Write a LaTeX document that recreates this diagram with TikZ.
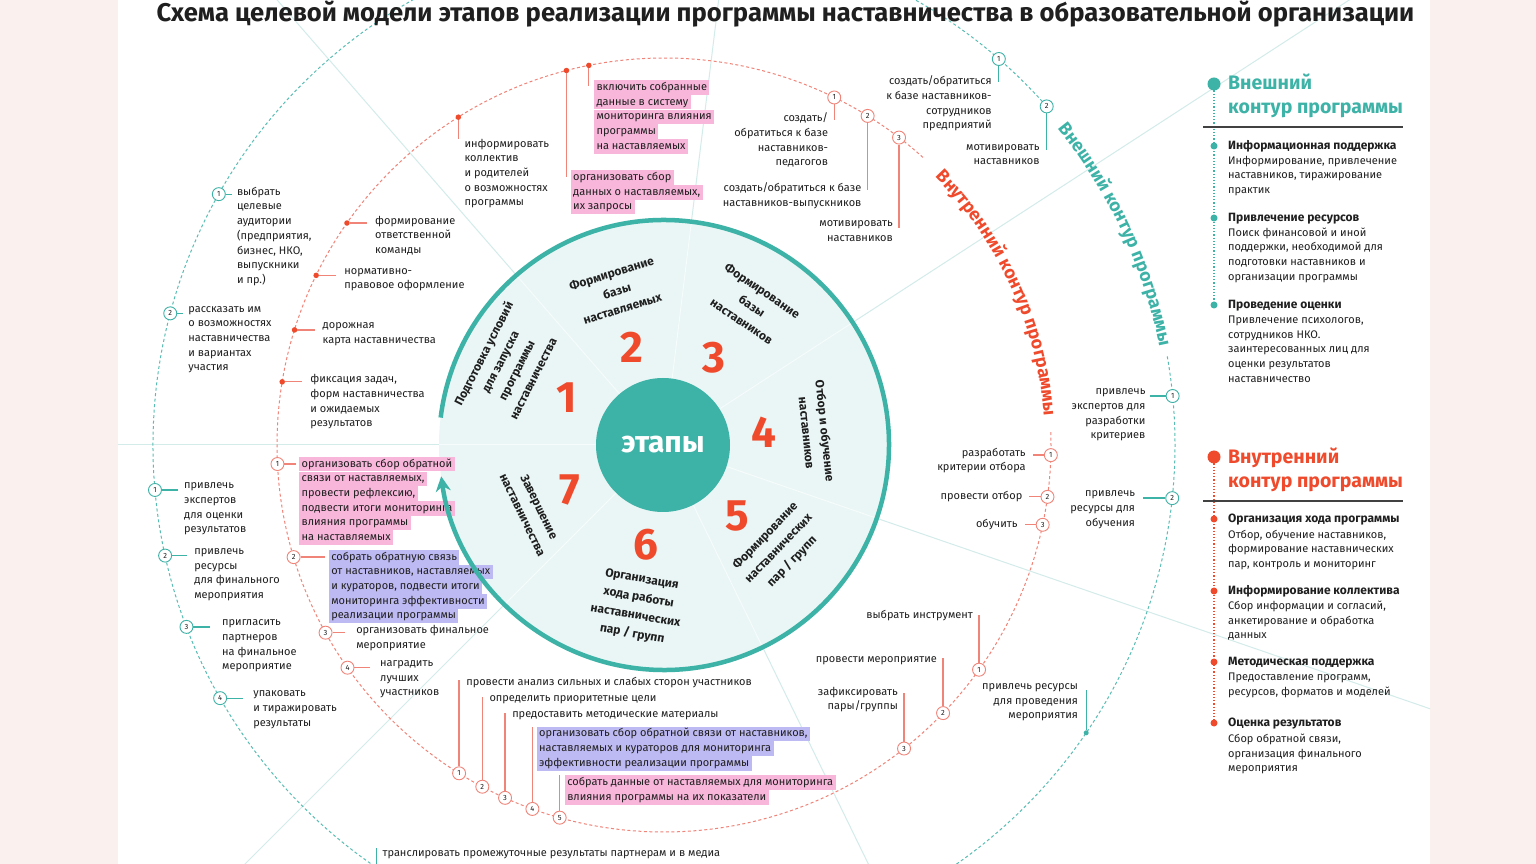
\documentclass[tikz,border=0pt]{standalone}
\usepackage{fontspec}
\setmainfont{Fira Sans}
\usepackage{xcolor}
\usetikzlibrary{positioning,calc,arrows.meta,decorations.text}
\definecolor{tealc}{HTML}{3DB2A7}
\definecolor{tealbg}{HTML}{E9F6F5}
\definecolor{tealline}{HTML}{D3ECE9}
\definecolor{redc}{HTML}{EF4A2C}
\definecolor{salmon}{HTML}{F08478}
\definecolor{pinkhl}{HTML}{F7B6DA}
\definecolor{lilachl}{HTML}{BDB9F2}
\definecolor{paper}{HTML}{FAF0ED}
\definecolor{ink}{HTML}{1F1F1F}
\setlength{\fboxsep}{0pt}
\newcommand{\hlpink}[1]{\colorbox{pinkhl}{\rule[-4.4pt]{0pt}{14.6pt}\hspace{2.5pt}#1\hspace{2.5pt}}}
\newcommand{\hllilac}[1]{\colorbox{lilachl}{\rule[-4.4pt]{0pt}{14.6pt}\hspace{2.5pt}#1\hspace{2.5pt}}}
\tikzset{
	item/.style={font=\fontsize{11}{14.7}\selectfont,text=ink,align=left,inner sep=0pt,
		execute at begin node=\strut},
	itemr/.style={item,align=right},
	rdot/.style={circle,fill=redc,inner sep=0pt,minimum size=5.5pt},
	tdot/.style={circle,fill=tealc,inner sep=0pt,minimum size=5pt},
	rnum/.style={circle,draw=salmon,fill=white,line width=0.9pt,inner sep=0pt,minimum size=13pt,
		font=\fontsize{7.5}{8}\selectfont,text=ink},
	tnum/.style={rnum,draw=tealc},
	rlink/.style={salmon,line width=1.3pt},
	tlink/.style={tealc,line width=1.3pt},
	rdash/.style={salmon,line width=1pt,dash pattern=on 3pt off 2.5pt},
	tdash/.style={tealc!85,line width=1pt,dash pattern=on 3pt off 2.5pt},
	divider/.style={tealline,line width=1pt},
	stage/.style={font=\bfseries\fontsize{12}{18.5}\selectfont,text=ink,align=center,inner sep=0pt},
	bignum/.style={font=\bfseries\fontsize{44}{44}\selectfont,text=redc,inner sep=0pt},
	head/.style={font=\bfseries\fontsize{19.5}{24}\selectfont,align=left,inner sep=0pt,anchor=north west,
		execute at begin node=\strut},
	subhead/.style={font=\bfseries\fontsize{12}{14.7}\selectfont,text=ink,inner sep=0pt,anchor=north west,
		execute at begin node=\strut},
	body/.style={item,anchor=north west},
	rule/.style={ink!85,line width=1.8pt},
	listdot/.style={circle,inner sep=0pt,minimum size=7pt},
	bigdot/.style={circle,inner sep=0pt,minimum size=13pt}
}

\begin{document}
\begin{tikzpicture}[x=1pt,y=1pt]
	
	\useasboundingbox (-664,-419) rectangle (872,445);
	\fill[paper] (-664,-419) rectangle (872,445);
	\fill[white] (-546,-419) rectangle (766,445);
	
	\begin{scope}
		\clip (-546,-419) rectangle (766,445);
		\draw[divider] (180:67) -- (180:900);
		\draw[divider] (131:67) -- (131:900);
		\draw[divider] (83:67) -- (83:900);
		\draw[divider] (33:67) -- (33:900);
		\draw[divider] (-19:67) -- (-19:900);
		\draw[divider] (-64:67) -- (-64:900);
		\draw[divider] (-135:67) -- (-135:900);
		\fill[tealbg] (0,0) circle (225);
		\draw[white!60!tealbg,line width=1pt] (180:67) -- (180:225);
		\draw[white!60!tealbg,line width=1pt] (131:67) -- (131:225);
		\draw[white!60!tealbg,line width=1pt] (83:67) -- (83:225);
		\draw[white!60!tealbg,line width=1pt] (33:67) -- (33:225);
		\draw[white!60!tealbg,line width=1pt] (-19:67) -- (-19:225);
		\draw[white!60!tealbg,line width=1pt] (-64:67) -- (-64:225);
		\draw[white!60!tealbg,line width=1pt] (-135:67) -- (-135:225);
		\draw[tdash] (41:511) arc (41:370:511);
		\draw[rdash] (48:387) arc (48:362:387);
	\end{scope}
	
	\path[decorate,decoration={text along path,text align=center,
		text={|\bfseries\fontsize{18}{18}\selectfont\color{redc}|Внутренний контур программы}}]
		(46:381) arc (46:3:381);
	\path[decorate,decoration={text along path,text align=center,
		text={|\bfseries\fontsize{18}{18}\selectfont\color{tealc}|Внешний контур программы}}]
		(39.5:505) arc (39.5:10.5:505);
	
	\node[font=\bfseries\fontsize{25.6}{25.6}\selectfont,text=ink,inner sep=0pt] (title) at (121.5,431)
		{Схема целевой модели этапов реализации программы наставничества в образовательной организации};
	
	\node[circle,fill=tealc,minimum size=134pt,inner sep=0pt,text=white,
		font=\bfseries\fontsize{30}{30}\selectfont] (etapy) at (-1,0) {этапы};
	
	\node[bignum] (n1) at (-97,47) {1};
	\node[bignum] (n2) at (-32,98) {2};
	\node[bignum] (n3) at (50,87) {3};
	\node[bignum] (n4) at (100,13) {4};
	\node[bignum] (n5) at (73,-71) {5};
	\node[bignum] (n6) at (-18,-100) {6};
	\node[bignum] (n7) at (-94,-45) {7};
	
	\node[stage,rotate=63] (st1) at (-156,79) {Подготовка условий\\для запуска\\программы\\наставничества};
	\node[stage,rotate=17] (st2) at (-47,154) {Формирование\\базы\\наставляемых};
	\node[stage,rotate=-34] (st3) at (88,139) {Формирование\\базы\\наставников};
	\node[stage,rotate=-84] (st4) at (152,13) {Отбор и обучение\\наставников};
	\node[stage,rotate=46] (st5) at (115,-104) {Формирование\\наставнических\\пар / групп};
	\node[stage,rotate=-10] (st6) at (-27,-162) {Организация\\хода работы\\наставнических\\пар / групп};
	\node[stage,rotate=-64] (st7) at (-133,-66) {Завершение\\наставничества};
	
	\node[rdot] (p1) at (145:387) {};
	\draw[rlink] (p1) -- ++(20,0) coordinate (p1e);
	\node[item,below right=-7.4pt and 8pt of p1e] (p1t) {формирование\\ответственной\\команды};
	\node[rdot] (p2) at (154:387) {};
	\draw[rlink] (p2) -- ++(20,0) coordinate (p2e);
	\node[item,below right=-7.4pt and 8pt of p2e] (p2t) {нормативно-\\правовое оформление};
	\node[rdot] (p3) at (162.7:387) {};
	\draw[rlink] (p3) -- ++(20,0) coordinate (p3e);
	\node[item,below right=-7.4pt and 8pt of p3e] (p3t) {дорожная\\карта наставничества};
	\node[rdot] (p4) at (170.6:387) {};
	\draw[rlink] (p4) -- ++(20,0) coordinate (p4e);
	\node[item,below right=-7.4pt and 8pt of p4e] (p4t) {фиксация задач,\\форм наставничества\\и ожидаемых\\результатов};
	
	\node[rdot] (b1) at (122.1:387) {};
	\draw[rlink] (b1) -- ++(0,-22) coordinate (b1e);
	\node[item,below right=-0.6pt and 6pt of b1e] (b1t) {информировать\\коллектив\\и родителей\\о возможностях\\программы};
	\node[rdot] (b2) at (101.2:387) {};
	\draw[rlink] (b2) -- ++(0,-21) coordinate (b2e);
	\node[item,below right=-6.4pt and 5pt of b2e] (b2t) {\hlpink{включить собранные}\\\hlpink{данные в систему}\\\hlpink{мониторинга влияния}\\\hlpink{программы}\\\hlpink{на наставляемых}};
	\node[rdot] (b3) at (104.6:387) {};
	\draw[rlink] (b3) -- ++(0,-106) coordinate (b3e);
	\node[item,below right=-6.4pt and 4pt of b3e] (b3t) {\hlpink{организовать сбор}\\\hlpink{данных о наставляемых,}\\\hlpink{их запросы}};
	
	\node[rnum] (m1) at (63.9:387) {1};
	\draw[rlink] (m1) -- ++(0,-22.5) coordinate (m1e);
	\node[itemr,below left=-7.4pt and 6pt of m1e] (m1t) {создать/\\обратиться к базе\\наставников-\\педагогов};
	\node[rnum] (m2) at (58.25:387) {2};
	\draw[rlink] (m2) -- ++(0,-74) coordinate (m2e);
	\node[itemr,below left=-7.4pt and 6pt of m2e] (m2t) {создать/обратиться к базе\\наставников-выпускников};
	\node[rnum] (m3) at (52.6:387) {3};
	\draw[rlink] (m3) -- ++(0,-90.5) coordinate (m3e);
	\node[itemr,below left=-7.4pt and 6pt of m3e] (m3t) {мотивировать\\наставников};
	
	\node[rnum] (s1) at (-1.5:387) {1};
	\draw[rlink] (s1) -- ++(-18,0) coordinate (s1e);
	\node[itemr,below left=-7.4pt and 7pt of s1e] (s1t) {разработать\\критерии отбора};
	\node[rnum] (s2) at (-7.7:387) {2};
	\draw[rlink] (s2) -- ++(-18,0) coordinate (s2e);
	\node[itemr,below left=-7.4pt and 7pt of s2e] (s2t) {провести отбор};
	\node[rnum] (s3) at (-11.9:387) {3};
	\draw[rlink] (s3) -- ++(-18,0) coordinate (s3e);
	\node[itemr,below left=-7.4pt and 7pt of s3e] (s3t) {обучить};
	
	\node[rnum] (q1) at (-35.5:387) {1};
	\draw[rlink] (q1) -- ++(0,55) coordinate (q1e);
	\node[itemr,below left=-6.4pt and 6pt of q1e] (q1t) {выбрать инструмент};
	\node[rnum] (q2) at (-43.85:387) {2};
	\draw[rlink] (q2) -- ++(0,55) coordinate (q2e);
	\node[itemr,below left=-6.4pt and 6pt of q2e] (q2t) {провести мероприятие};
	\node[rnum] (q3) at (-51.66:387) {3};
	\draw[rlink] (q3) -- ++(0,55.5) coordinate (q3e);
	\node[itemr,below left=-6.4pt and 6pt of q3e] (q3t) {зафиксировать\\пары/группы};
	
	\node[rnum] (w1) at (-121.97:387) {1};
	\draw[rlink] (w1) -- ++(0,93) coordinate (w1e);
	\node[item,below right=-5.4pt and 7pt of w1e] (w1t) {провести анализ сильных и слабых сторон участников};
	\node[rnum] (w2) at (-118:387) {2};
	\draw[rlink] (w2) -- ++(0,90) coordinate (w2e);
	\node[item,below right=-5.4pt and 7pt of w2e] (w2t) {определить приоритетные цели};
	\node[rnum] (w3) at (-114.25:387) {3};
	\draw[rlink] (w3) -- ++(0,85) coordinate (w3e);
	\node[item,below right=-5.4pt and 7pt of w3e] (w3t) {предоставить методические материалы};
	\node[rnum] (w4) at (-109.88:387) {4};
	\draw[rlink] (w4) -- ++(0,82) coordinate (w4e);
	\node[item,below right=-0.4pt and 4pt of w4e] (w4t) {\hllilac{организовать сбор обратной связи от наставников,}\\\hllilac{наставляемых и кураторов для мониторинга}\\\hllilac{эффективности реализации программы}};
	\node[rnum] (w5) at (-105.64:387) {5};
	\draw[rlink] (w5) -- ++(0,43) coordinate (w5e);
	\node[item,below right=0.6pt and 5pt of w5e] (w5t) {\hlpink{собрать данные от наставляемых для мониторинга}\\\hlpink{влияния программы на их показатели}};
	
	\node[rnum] (z1) at (-177.18:387) {1};
	\draw[rlink] (z1) -- ++(18.5,0) coordinate (z1e);
	\node[item,below right=-7.4pt and 3pt of z1e] (z1t) {\hlpink{организовать сбор обратной}\\\hlpink{связи от наставляемых,}\\\hlpink{провести рефлексию,}\\\hlpink{подвести итоги мониторинга}\\\hlpink{влияния программы}\\\hlpink{на наставляемых}};
	\node[rnum] (z2) at (-163.16:387) {2};
	\draw[rlink] (z2) -- ++(31,0) coordinate (z2e);
	\node[item,below right=-7.4pt and 4pt of z2e] (z2t) {\hllilac{собрать обратную связь}\\\hllilac{от наставников, наставляемых}\\\hllilac{и кураторов, подвести итоги}\\\hllilac{мониторинга эффективности}\\\hllilac{реализации программы}};
	\node[rnum] (z3) at (-150.99:387) {3};
	\draw[rlink] (z3) -- ++(19.5,0) coordinate (z3e);
	\node[item,below right=-7.4pt and 11pt of z3e] (z3t) {организовать финальное\\мероприятие};
	\node[rnum] (z4) at (-144.87:387) {4};
	\draw[rlink] (z4) -- ++(22.5,0) coordinate (z4e);
	\node[item,below right=-7.4pt and 10pt of z4e] (z4t) {наградить\\лучших\\участников};
	
	\node[tnum] (ea1) at (150.6:511) {1};
	\draw[tlink] (ea1) -- ++(13,0) coordinate (ea1e);
	\node[item,below right=-7.4pt and 5pt of ea1e] (ea1t) {выбрать\\целевые\\аудитории\\(предприятия,\\бизнес, НКО,\\выпускники\\и пр.)};
	\node[tnum] (ea2) at (165.07:511) {2};
	\draw[tlink] (ea2) -- ++(13,0) coordinate (ea2e);
	\node[item,below right=-7.4pt and 5pt of ea2e] (ea2t) {рассказать им\\о возможностях\\наставничества\\и вариантах\\участия};
	
	\node[tnum] (ez1) at (-174.95:511) {1};
	\draw[tlink] (ez1) -- ++(23,0) coordinate (ez1e);
	\node[item,below right=-7.4pt and 6pt of ez1e] (ez1t) {привлечь\\экспертов\\для оценки\\результатов};
	\node[tnum] (ez2) at (-167.5:511) {2};
	\draw[tlink] (ez2) -- ++(22,0) coordinate (ez2e);
	\node[item,below right=-7.4pt and 7pt of ez2e] (ez2t) {привлечь\\ресурсы\\для финального\\мероприятия};
	\node[tnum] (ez3) at (-159.15:511) {3};
	\draw[tlink] (ez3) -- ++(23.5,0) coordinate (ez3e);
	\node[item,below right=-7.4pt and 12pt of ez3e] (ez3t) {пригласить\\партнеров\\на финальное\\мероприятие};
	\node[tnum] (ez4) at (-150.3:511) {4};
	\draw[tlink] (ez4) -- ++(23,0) coordinate (ez4e);
	\node[item,below right=-7.4pt and 10pt of ez4e] (ez4t) {упаковать\\и тиражировать\\результаты};
	
	\node[tnum] (em1) at (49.06:511) {1};
	\draw[tlink] (em1) -- ++(0,-23) coordinate (em1e);
	\node[itemr,below left=-6.4pt and 7pt of em1e] (em1t) {создать/обратиться\\к базе наставников-\\сотрудников\\предприятий};
	\node[tnum] (em2) at (41.5:511) {2};
	\draw[tlink] (em2) -- ++(0,-44) coordinate (em2e);
	\node[itemr,below left=-6.4pt and 7pt of em2e] (em2t) {мотивировать\\наставников};
	
	\node[tnum] (es1) at (5.5:511) {1};
	\draw[tlink] (es1) -- ++(-23,0) coordinate (es1e);
	\node[itemr,below left=-7.4pt and 4pt of es1e] (es1t) {привлечь\\экспертов для\\разработки\\критериев};
	\node[tnum] (es2) at (-5.97:511) {2};
	\draw[tlink] (es2) -- ++(-29,0) coordinate (es2e);
	\node[itemr,below left=-7.4pt and 8pt of es2e] (es2t) {привлечь\\ресурсы для\\обучения};
	
	\node[tdot] (eq) at (-34.28:511) {};
	\draw[tlink] (eq) -- ++(0,43) coordinate (eqe);
	\node[itemr,below left=-6.4pt and 8pt of eqe] (eqt) {привлечь ресурсы\\для проведения\\мероприятия};
	
	\coordinate (ew) at (-124.25:511);
	\draw[tlink] (ew) -- ++(0,19) coordinate (ewe);
	\node[item,below right=-2.4pt and 6pt of ewe] (ewt) {транслировать промежуточные результаты партнерам и в медиа};
	
	\draw[tealc,line width=1.2pt,dash pattern=on 1.2pt off 2pt] (550,361) -- (550,140);
	\node[bigdot,fill=tealc] (ext) at (550,361) {};
	\node[head,text=tealc] (extt) at (564,371) {Внешний\\контур программы};
	\draw[rule] (539,318) -- (739,318);
	\node[listdot,fill=tealc] (x1) at (550,299) {};
	\node[subhead] (x1h) at (564,305.7) {Информационная поддержка};
	\node[body] (x1t) at (564,289.4) {Информирование, привлечение\\наставников, тиражирование\\практик};
	\node[listdot,fill=tealc] (x2) at (550,227) {};
	\node[subhead] (x2h) at (564,233.7) {Привлечение ресурсов};
	\node[body] (x2t) at (564,217.4) {Поиск финансовой и иной\\поддержки, необходимой для\\подготовки наставников и\\организации программы};
	\node[listdot,fill=tealc] (x3) at (550,140) {};
	\node[subhead] (x3h) at (564,146.7) {Проведение оценки};
	\node[body] (x3t) at (564,129.4) {Привлечение психологов,\\сотрудников НКО.\\заинтересованных лиц для\\оценки результатов\\наставничество};
	
	\draw[redc,line width=1.2pt,dash pattern=on 1.2pt off 2pt] (550,-12) -- (550,-278);
	\node[bigdot,fill=redc] (int) at (550,-12) {};
	\node[head,text=redc] (intt) at (564,-3) {Внутренний\\контур программы};
	\draw[rule] (539,-56) -- (739,-56);
	\node[listdot,fill=redc] (y1) at (550,-74) {};
	\node[subhead] (y1h) at (564,-67.3) {Организация хода программы};
	\node[body] (y1t) at (564,-84.6) {Отбор, обучение наставников,\\формирование наставнических\\пар, контроль и мониторинг};
	\node[listdot,fill=redc] (y2) at (550,-146) {};
	\node[subhead] (y2h) at (564,-139.3) {Информирование коллектива};
	\node[body] (y2t) at (564,-155.6) {Сбор информации и согласий,\\анкетирование и обработка\\данных};
	\node[listdot,fill=redc] (y3) at (550,-217) {};
	\node[subhead] (y3h) at (564,-210.3) {Методическая поддержка};
	\node[body] (y3t) at (564,-227.6) {Предоставление программ,\\ресурсов, форматов и моделей};
	\node[listdot,fill=redc] (y4) at (550,-278) {};
	\node[subhead] (y4h) at (564,-271.3) {Оценка результатов};
	\node[body] (y4t) at (564,-288.6) {Сбор обратной связи,\\организация финального\\мероприятия};
	
	\draw[tealc,line width=4.5pt,-{Stealth[length=15pt,width=15pt]}] (173:225) arc (173:-172:225);
	
\end{tikzpicture}
\end{document}
